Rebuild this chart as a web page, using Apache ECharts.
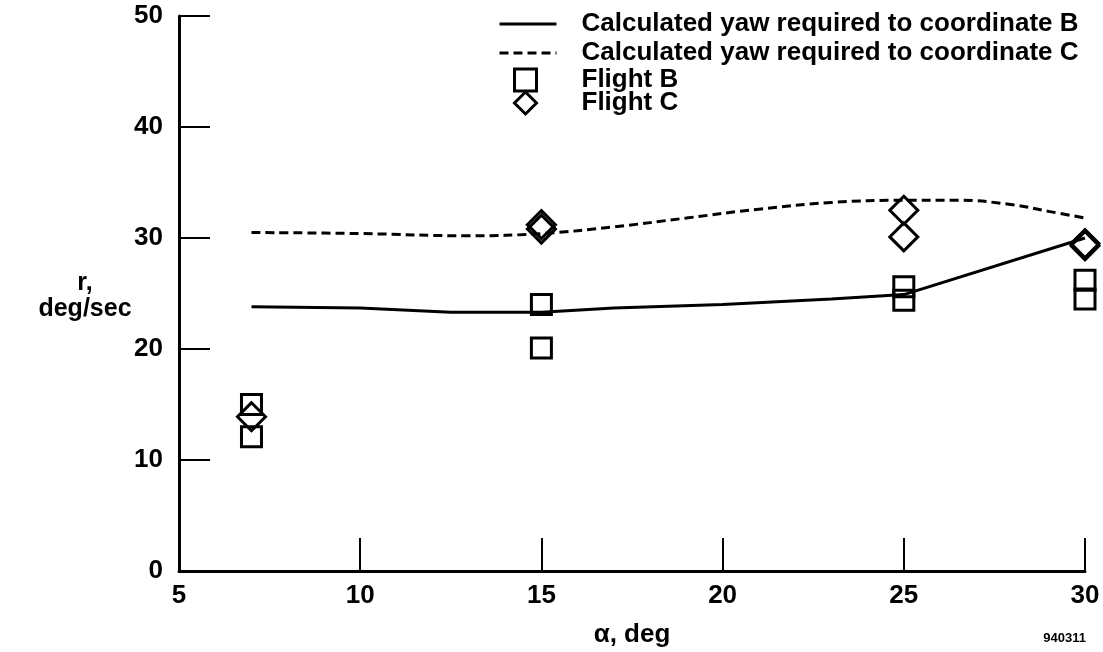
<!DOCTYPE html>
<html>
<head>
<meta charset="utf-8">
<script src="https://cdn.jsdelivr.net/npm/echarts@6/dist/echarts.min.js"></script>
<style>
  html, body { margin: 0; padding: 0; background: #fff; }
  #chart { width: 1103px; height: 652px; }
</style>
</head>
<body>
<div id="chart"></div>
<script>
// Yaw rate r (deg/sec) against angle of attack alpha (deg)
const xTicks = [5, 10, 15, 20, 25, 30];
const yTicks = [0, 10, 20, 30, 40, 50];

// Calculated yaw required to coordinate, configuration B (solid)
const calcB = [
  [7, 23.8], [10, 23.7], [12.5, 23.3], [15, 23.3], [17, 23.7],
  [20, 24.0], [23, 24.5], [25, 24.9], [30, 30.0]
];
// Calculated yaw required to coordinate, configuration C (dashed)
const calcC = [
  [7, 30.5], [10, 30.4], [13, 30.2], [15, 30.4], [17, 31.0], [19, 31.8],
  [21, 32.6], [23, 33.2], [25, 33.4], [26.5, 33.4], [28, 33.0], [29, 32.4], [30, 31.8]
];
// Flight measurements
const flightB = [
  [7, 15.0], [7, 12.1], [15, 24.0], [15, 20.1],
  [25, 25.6], [25, 24.4], [30, 26.2], [30, 24.5]
];
const flightC = [
  [7, 13.9], [15, 31.2], [15, 30.8], [25, 32.5], [25, 30.1], [30, 29.5], [30, 29.3]
];

const seriesNames = [
  'Calculated yaw required to coordinate B',
  'Calculated yaw required to coordinate C',
  'Flight B',
  'Flight C'
];

const FONT = '"Liberation Sans", Arial, Helvetica, sans-serif';
const chart = echarts.init(document.getElementById('chart'), null, { renderer: 'canvas' });

const hollow = { color: 'rgba(0,0,0,0)', borderColor: '#000', borderWidth: 3, opacity: 1 };
const noDot = { color: 'rgba(0,0,0,0)', borderWidth: 0 };
const legendText = {
  fontFamily: FONT, fontWeight: 'bold', fontSize: 26, color: '#000', lineHeight: 26
};
const tickFont = { fontFamily: FONT, fontWeight: 'bold', fontSize: 26, color: '#000' };

chart.setOption({
  animation: false,
  backgroundColor: '#fff',
  textStyle: { fontFamily: FONT, color: '#000' },
  grid: { left: 179, right: 18, top: 16, bottom: 81, outerBoundsMode: 'none', containLabel: false },
  legend: [
    {
      // calculated curves
      orient: 'vertical',
      left: 493,
      top: 6,
      itemWidth: 57,
      itemHeight: 16,
      itemGap: 3,
      data: [
        { name: seriesNames[0], itemStyle: noDot,
          lineStyle: { color: '#000', width: 3, type: 'solid' } },
        { name: seriesNames[1], itemStyle: noDot,
          lineStyle: { color: '#000', width: 3, type: [9, 5] } }
      ],
      textStyle: Object.assign({ padding: [0, 0, 0, 20] }, legendText)
    },
    {
      // flight data symbols
      orient: 'vertical',
      left: 508,
      top: 62,
      itemWidth: 22,
      itemHeight: 22,
      itemGap: -3,
      data: [
        { name: seriesNames[2], itemStyle: hollow },
        { name: seriesNames[3], itemStyle: hollow }
      ],
      textStyle: Object.assign({ padding: [0, 0, 0, 40] }, legendText, { lineHeight: 23 })
    }
  ],
  xAxis: {
    type: 'value',
    min: xTicks[0],
    max: xTicks[xTicks.length - 1],
    interval: 5,
    name: 'α, deg',
    nameLocation: 'middle',
    nameGap: 51,
    nameTextStyle: tickFont,
    axisLine: { lineStyle: { color: '#000', width: 3 } },
    axisTick: { inside: true, length: 33, lineStyle: { color: '#000', width: 2 } },
    axisLabel: Object.assign({ margin: 12 }, tickFont),
    splitLine: { show: false }
  },
  yAxis: {
    type: 'value',
    min: yTicks[0],
    max: yTicks[yTicks.length - 1],
    interval: 10,
    axisLine: { show: true, lineStyle: { color: '#000', width: 3 } },
    axisTick: { show: true, inside: true, length: 31, lineStyle: { color: '#000', width: 2 } },
    axisLabel: Object.assign({ margin: 16 }, tickFont),
    splitLine: { show: false }
  },
  series: [
    {
      name: seriesNames[0],
      type: 'line',
      data: calcB,
      showSymbol: false,
      symbol: 'none',
      smooth: false,
      lineStyle: { color: '#000', width: 3, type: 'solid' },
      itemStyle: { color: '#000' },
      z: 2
    },
    {
      name: seriesNames[1],
      type: 'line',
      data: calcC,
      showSymbol: false,
      symbol: 'none',
      smooth: 0.4,
      lineStyle: { color: '#000', width: 3, type: [9, 5] },
      itemStyle: { color: '#000' },
      z: 2
    },
    {
      name: seriesNames[2],
      type: 'scatter',
      data: flightB,
      symbol: 'rect',
      symbolSize: 20,
      itemStyle: hollow,
      z: 3
    },
    {
      name: seriesNames[3],
      type: 'scatter',
      data: flightC,
      symbol: 'diamond',
      symbolSize: 28,
      itemStyle: hollow,
      z: 3
    }
  ],
  graphic: [
    {
      // y-axis title
      type: 'text',
      x: 85,
      y: 296,
      style: {
        text: 'r,\ndeg/sec',
        font: 'bold 25px ' + FONT,
        fill: '#000',
        align: 'center',
        verticalAlign: 'middle',
        lineHeight: 26
      }
    },
    {
      type: 'text',
      right: 17,
      top: 632,
      style: { text: '940311', font: 'bold 13px ' + FONT, fill: '#000' }
    }
  ]
});
</script>
</body>
</html>
